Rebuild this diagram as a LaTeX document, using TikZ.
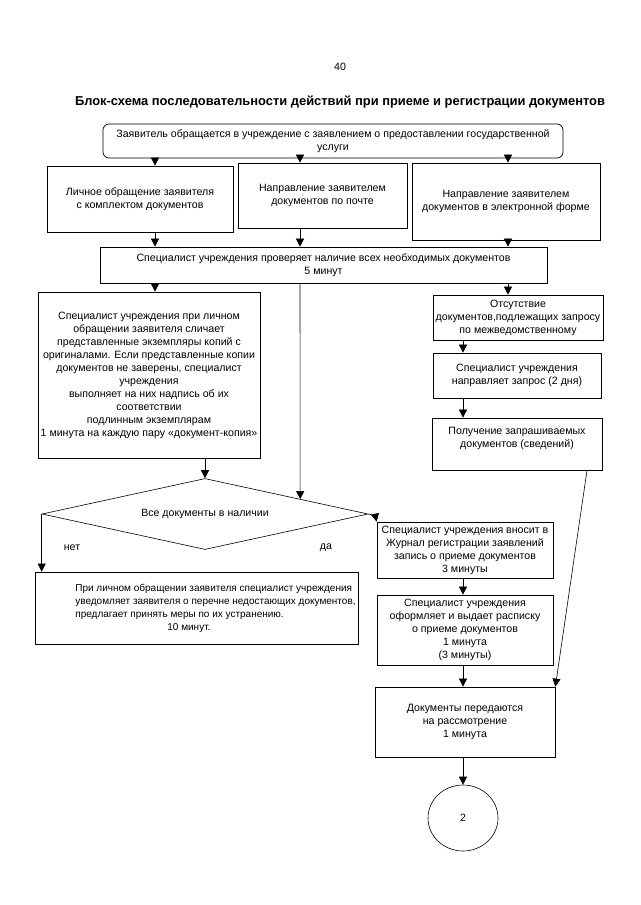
\documentclass[tikz,border=0pt]{standalone}
\usepackage{fontspec}
\setmainfont{Liberation Sans}
\usetikzlibrary{arrows.meta,shapes.geometric,calc}

\begin{document}
\begin{tikzpicture}[x=1pt,y=-1pt,
    every node/.style={font=\fontsize{10.6}{13}\selectfont, align=center},
    blk/.style={draw, line width=0.7pt, inner sep=2pt},
    arr/.style={-{Triangle[length=8pt,width=8pt]}, line width=0.6pt},
    ln/.style={line width=0.6pt}]
    \useasboundingbox (0,0) rectangle (640,905);
    % Headings:
    \node (pg) at (340,67) {40};
    \node[font=\fontsize{12.9}{15}\selectfont\bfseries] (ttl) at (340,102) {Блок-схема последовательности действий при приеме и регистрации документов};
    % Columns of the connectors:
    \coordinate (c1) at (155,0);
    \coordinate (c2) at (300,0);
    \coordinate (c3) at (508,0);
    \coordinate (c4) at (463,0);
    \coordinate (c5) at (587,0);
    % Boxes:
    \node[blk, rounded corners=6pt, minimum width=460pt, minimum height=34pt] (apl) at (333,141) {Заявитель обращается в учреждение с заявлением о предоставлении государственной\\услуги};
    \node[blk, minimum width=186pt, minimum height=66pt] (lich) at (140,199) {Личное обращение заявителя\\с комплектом документов};
    \node[blk, minimum width=169pt, minimum height=65pt] (post) at (322.5,195.5) {Направление заявителем\\документов по почте};
    \node[blk, minimum width=188pt, minimum height=77pt] (elec) at (506,201.5) {Направление заявителем\\документов в электронной форме};
    \node[blk, minimum width=447pt, minimum height=36pt] (chk) at (323.5,265) {Специалист учреждения проверяет наличие всех необходимых документов\\5 минут};
    \node[blk, minimum width=222pt, minimum height=166pt] (cmp) at (149,375) {Специалист учреждения при личном\\обращении заявителя сличает\\представленные экземпляры копий с\\оригиналами. Если представленные копии\\документов не заверены, специалист\\учреждения\\выполняет на них надпись об их\\соответствии\\подлинным экземплярам\\1 минута на каждую пару «документ-копия»};
    \node[blk, minimum width=170pt, minimum height=45pt] (lack) at (518,317.5) {Отсутствие\\документов,подлежащих запросу\\по межведомственному};
    \node[blk, minimum width=168pt, minimum height=45pt] (req) at (517,375.5) {Специалист учреждения\\направляет запрос (2 дня)};
    \node[blk, minimum width=170pt, minimum height=52pt] (rcv) at (517,444) {Получение запрашиваемых\\документов (сведений)\\\mbox{}};
    \node[draw, diamond, ln, shape aspect=4.6, minimum width=326pt, minimum height=71pt, inner sep=0pt] (dia) at (205,514) {Все документы в наличии};
    \node (no) at (72,548) {нет};
    \node (yes) at (326,548) {да};
    \node[blk, align=left, inner xsep=0pt, font=\fontsize{10}{13}\selectfont, minimum width=323pt, minimum height=72pt] (miss) at (196.5,608) {\hspace*{38pt}При личном обращении заявителя специалист учреждения\\\hspace*{38pt}уведомляет заявителя о перечне недостающих документов,\\\hspace*{38pt}предлагает принять меры по их устранению.\\\hspace*{130pt}10 минут.};
    \node[blk, minimum width=176pt, minimum height=56pt] (reg) at (465,550) {Специалист учреждения вносит в\\Журнал регистрации заявлений\\запись о приеме документов\\3 минуты};
    \node[blk, minimum width=176pt, minimum height=70pt] (rcpt) at (465,630) {Специалист учреждения\\оформляет и выдает расписку\\о приеме документов\\1 минута\\(3 минуты)};
    \node[blk, minimum width=180pt, minimum height=70pt] (pass) at (465,722) {Документы передаются\\на рассмотрение\\1 минута};
    \node[draw, ellipse, ln, minimum width=70pt, minimum height=66pt] (fin) at (463,818) {2};
    % Connectors:
    \draw[arr] (apl.south -| c1) -- (lich.north -| c1);
    \draw[arr] (apl.south -| c2) -- (post.north -| c2);
    \draw[arr] (apl.south -| c3) -- (elec.north -| c3);
    \draw[arr] (lich.south -| c1) -- (chk.north -| c1);
    \draw[arr] (post.south -| c2) -- (chk.north -| c2);
    \draw[arr] (elec.south -| c3) -- (chk.north -| c3);
    \draw[arr] (chk.south -| c1) -- (cmp.north -| c1);
    \draw[arr] (chk.south -| c2) -- ($(dia.north)!0.583!(dia.east)$);
    \draw[arr] (chk.south -| c3) -- (lack.north -| c3);
    \draw[arr] (lack.south -| c4) -- (req.north -| c4);
    \draw[arr] (req.south -| c4) -- (rcv.north -| c4);
    \draw[arr] (cmp.south -| dia.north) -- (dia.north);
    \draw[arr] (dia.west) -- (dia.west |- miss.north);
    \draw[arr] (dia.east) to[bend left=35] (reg.north west);
    \draw[arr] (reg.south -| c4) -- (rcpt.north -| c4);
    \draw[arr] (rcpt.south -| c4) -- (pass.north -| c4);
    \draw[arr] (rcv.south -| c5) -- (pass.north east);
    \draw[arr] (pass.south -| fin.north) -- (fin.north);
\end{tikzpicture}
\end{document}
